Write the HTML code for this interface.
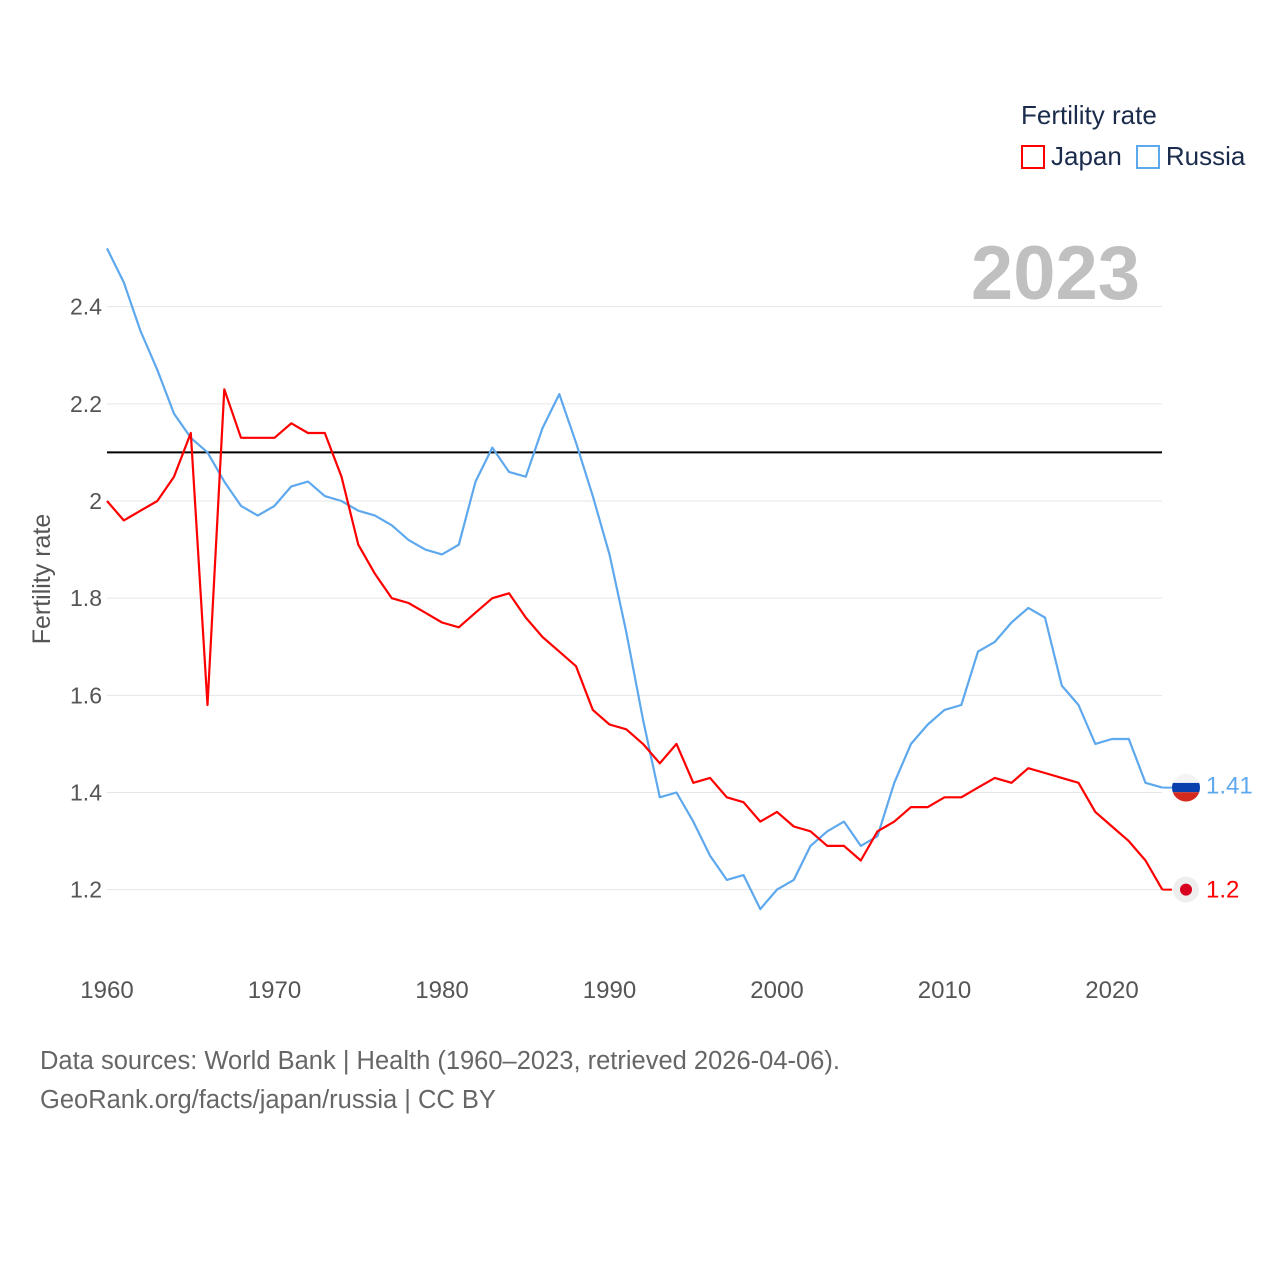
<!DOCTYPE html>
<html><head><meta charset="utf-8"><style>
body{margin:0;background:#fff;}
svg{display:block;font-family:"Liberation Sans",sans-serif;}
</style></head><body>
<svg id="c" width="1280" height="1280"></svg>
<script>
const years = [];for(let y=1960;y<=2023;y++)years.push(y);
const japan = [2.00,1.96,1.98,2.00,2.05,2.14,1.58,2.23,2.13,2.13,2.13,2.16,2.14,2.14,2.05,1.91,1.85,1.80,1.79,1.77,1.75,1.74,1.77,1.80,1.81,1.76,1.72,1.69,1.66,1.57,1.54,1.53,1.50,1.46,1.50,1.42,1.43,1.39,1.38,1.34,1.36,1.33,1.32,1.29,1.29,1.26,1.32,1.34,1.37,1.37,1.39,1.39,1.41,1.43,1.42,1.45,1.44,1.43,1.42,1.36,1.33,1.30,1.26,1.20];
const russia = [2.52,2.45,2.35,2.27,2.18,2.13,2.10,2.04,1.99,1.97,1.99,2.03,2.04,2.01,2.00,1.98,1.97,1.95,1.92,1.90,1.89,1.91,2.04,2.11,2.06,2.05,2.15,2.22,2.12,2.01,1.89,1.73,1.55,1.39,1.40,1.34,1.27,1.22,1.23,1.16,1.20,1.22,1.29,1.32,1.34,1.29,1.31,1.42,1.50,1.54,1.57,1.58,1.69,1.71,1.75,1.78,1.76,1.62,1.58,1.50,1.51,1.51,1.42,1.41];
const yTicks = [1.2,1.4,1.6,1.8,2.0,2.2,2.4];
const yTickLabels = ["1.2","1.4","1.6","1.8","2","2.2","2.4"];
const xTicks = [1960,1970,1980,1990,2000,2010,2020];
const refValue = 2.1;
const X = v => 107 + (v-1960)*16.75;
const Y = v => 501 - (v-2.0)*485.8;
const svg = document.getElementById('c');
const NS="http://www.w3.org/2000/svg";
function mk(t,a,txt){const e=document.createElementNS(NS,t);for(const k in a)e.setAttribute(k,a[k]);if(txt!==undefined)e.textContent=txt;svg.appendChild(e);return e;}
yTicks.forEach((v,i)=>{
 const g=mk('line',{x1:107,x2:1162,y1:Y(v),y2:Y(v),stroke:'#e6e6e6','stroke-width':1});
 
 const t=mk('text',{x:102,y:Y(v)+8,'text-anchor':'end','font-size':23,fill:'#555'},yTickLabels[i]);
 
});
xTicks.forEach(v=>{
 const t=mk('text',{x:X(v),y:998,'text-anchor':'middle','font-size':24,fill:'#555'},String(v));
 
});
const yt=mk('text',{transform:'translate(50,579) rotate(-90)','text-anchor':'middle','font-size':25,fill:'#555'},'Fertility rate');

const yr=mk('text',{x:1140,y:299,'text-anchor':'end','font-size':76,'font-weight':'bold',fill:'#c0c0c0'},'2023');

const rl=mk('line',{x1:107,x2:1162,y1:Y(refValue),y2:Y(refValue),stroke:'#000','stroke-width':2});

function line(data,color,name){
 const p=data.map((v,i)=>(i?'L':'M')+X(years[i]).toFixed(1)+','+Y(v).toFixed(1)).join('');
 const e=mk('path',{d:p,fill:'none',stroke:color,'stroke-width':2.2,'stroke-linejoin':'round'});
 
}
line(russia,'#5ea8ee','russia-line');
line(japan,'#ff0000','japan-line');
const jl=japan[japan.length-1], rlv=russia[russia.length-1];
mk('line',{x1:X(2023),x2:1172,y1:Y(jl),y2:Y(jl),stroke:'#ff0000','stroke-width':2});
mk('line',{x1:X(2023),x2:1172,y1:Y(rlv),y2:Y(rlv),stroke:'#5ea8ee','stroke-width':2});
const jc=mk('circle',{cx:1186,cy:Y(jl),r:13,fill:'#eee'});
mk('circle',{cx:1186,cy:Y(jl),r:6,fill:'#d7001f'});
const cp=mk('clipPath',{id:'rc'});const cc=document.createElementNS(NS,'circle');cc.setAttribute('cx',1186);cc.setAttribute('cy',Y(rlv));cc.setAttribute('r',14);cp.appendChild(cc);
const ry=Y(rlv);
mk('rect',{x:1172,y:ry-14,width:28,height:9.3,fill:'#f4f4f4','clip-path':'url(#rc)'});
mk('rect',{x:1172,y:ry-4.7,width:28,height:9.3,fill:'#0a3fae','clip-path':'url(#rc)'});
const rm=mk('rect',{x:1172,y:ry+4.6,width:28,height:9.4,fill:'#d52b1e','clip-path':'url(#rc)'});

const jv=mk('text',{x:1206,y:Y(jl)+8,'font-size':24,fill:'#ff0000'},String(jl));
const rv=mk('text',{x:1206,y:Y(rlv)+6,'font-size':24,fill:'#5ea8ee'},String(rlv));
</script>
<div style="position:absolute;left:1021px;top:100px;font-family:'Liberation Sans',sans-serif;color:#1a2b4c;font-size:26px;">
<div>Fertility rate</div>
<div style="margin-top:10px;display:flex;align-items:center;">
<span style="display:flex;align-items:center;"><span style="display:inline-block;width:24px;height:24px;border:2px solid #ff0000;box-sizing:border-box;margin-right:6px;"></span>Japan</span>
<span style="display:flex;align-items:center;margin-left:14px;"><span style="display:inline-block;width:24px;height:24px;border:2px solid #5ea8ee;box-sizing:border-box;margin-right:6px;"></span>Russia</span>
</div></div>
<div style="position:absolute;left:40px;top:1042px;font-family:'Liberation Sans',sans-serif;color:#666;font-size:25.5px;line-height:39px;">
Data sources: World Bank | Health (1960–2023, retrieved 2026-04-06).<br>GeoRank.org/facts/japan/russia | CC BY</div>
</body></html>
